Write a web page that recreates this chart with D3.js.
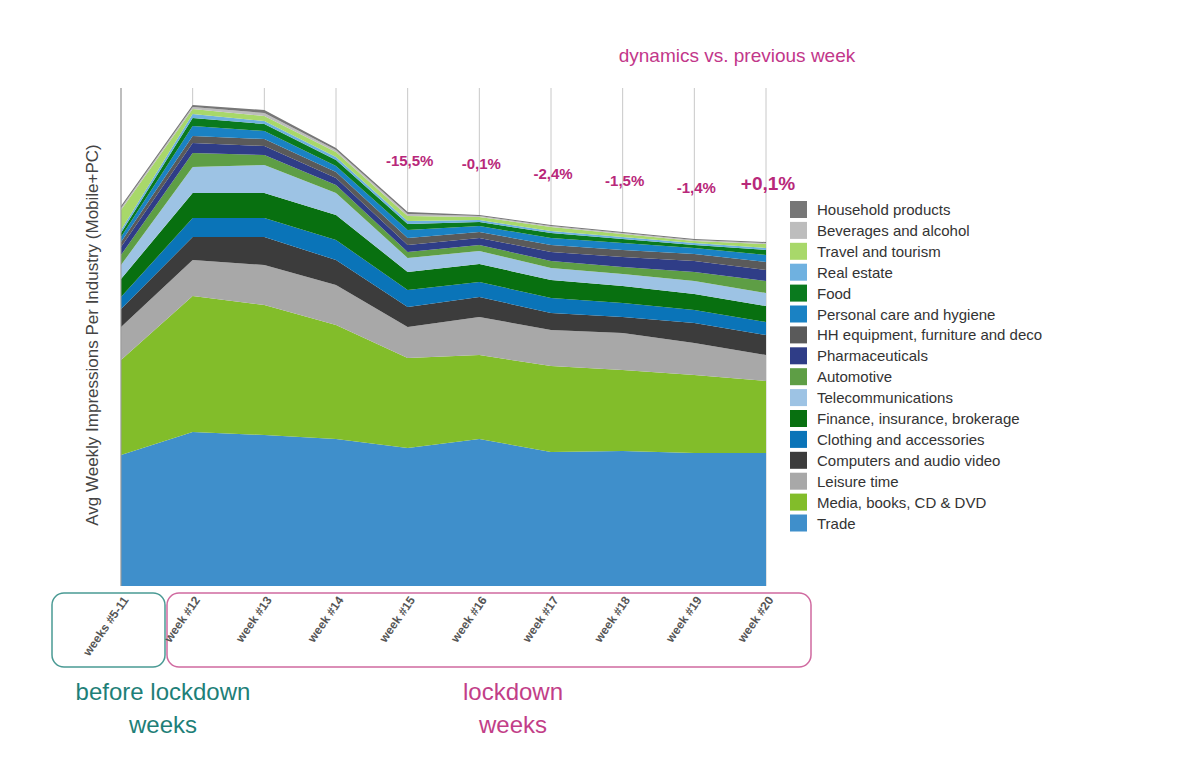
<!DOCTYPE html>
<html><head><meta charset="utf-8">
<script src="https://cdn.jsdelivr.net/npm/d3@7"></script>
<style>body{margin:0;background:#fff;font-family:"Liberation Sans",Arial,sans-serif}</style>
</head><body><div id="chart"></div>
<script>
// weeks along x
const weeks = ["weeks #5-11","week #12","week #13","week #14","week #15","week #16","week #17","week #18","week #19","week #20"];
// stack order bottom -> top
const industries = ["Trade","Media, books, CD & DVD","Leisure time","Computers and audio video","Clothing and accessories",
  "Finance, insurance, brokerage","Telecommunications","Automotive","Pharmaceuticals","HH equipment, furniture and deco",
  "Personal care and hygiene","Food","Real estate","Travel and tourism","Beverages and alcohol","Household products"];
const colors = ["#3f8fcb","#82bd2a","#a8a8a8","#3c3c3c","#0a74b8","#087010","#9dc3e4","#5e9e45","#2f3d87","#5a5a5a",
  "#1a82c4","#0a7a1e","#6fb1e0","#a8d86a","#bdbdbd","#777777"];
// avg weekly impressions per industry (arbitrary units), one array per week
const values = [
  [131,95,33,18,12,18,14,10,8,5,5,4,3,20,2,2],
  [154,136,36,23,19,25,26,14,10,7,10,8,4,5,2,2],
  [151,130,40,28,19,25,28,10,9,7,8,7,3,5,3,3],
  [147,114,40,25,20,25,22,8,7,6,6,6,3,5,2,2],
  [138,90,31,20,17,18,14,6,7,7,8,6,3,5,2,2],
  [147,84,38,20,15,18,13,6,7,6,6,4,2,3,1,1],
  [134,86,36,17,15,18,12,7,9,7,7,5,2,4,1,1],
  [135,81,37,16,14,17,12,7,10,7,7,4,2,3,1,1],
  [133,78,32,20,13,16,13,9,11,7,6,3,2,2,1,1],
  [133,72,26,20,13,16,13,12,11,8,7,5,2,4,1,1]
];
const dynamics = ["","","","","-15,5%","-0,1%","-2,4%","-1,5%","-1,4%","+0,1%"];

const W = 1200, H = 784;
const svg = d3.select("#chart").append("svg").attr("width", W).attr("height", H);

const rows = weeks.map((w, i) => {
  let r = {week: w};
  industries.forEach((k, j) => r[k] = values[i][j]);
  return r;
});
const series = d3.stack().keys(industries)(rows);

const x = d3.scalePoint().domain(weeks).range([121, 766]);
const y = d3.scaleLinear().domain([0, 500]).range([586, 86]);

// grid lines
svg.selectAll(".grid").data(weeks).enter().append("line")
  .attr("x1", d => x(d)).attr("x2", d => x(d)).attr("y1", 88).attr("y2", 586)
  .attr("stroke", "#c8c8c8").attr("stroke-width", 1);

const area = d3.area().x(d => x(d.data.week)).y0(d => y(d[0])).y1(d => y(d[1]));
svg.selectAll(".layer").data(series).enter().append("path")
  .attr("d", area).attr("fill", (d, i) => colors[i]);

svg.append("line").attr("x1", 121).attr("x2", 121).attr("y1", 88).attr("y2", 586).attr("stroke", "#999");

svg.append("text").attr("transform", "translate(98,335) rotate(-90)").attr("text-anchor", "middle")
  .attr("font-size", 17).attr("fill", "#444").text("Avg Weekly Impressions Per Industry (Mobile+PC)");

// dynamics labels
const topVal = weeks.map((w, i) => d3.sum(values[i]));
svg.selectAll(".dyn").data(weeks).enter().append("text")
  .attr("x", d => x(d) + 2).attr("y", (d, i) => y(topVal[i]) - (i === 9 ? 52 : 46))
  .attr("text-anchor", "middle").attr("font-weight", "bold")
  .attr("font-size", (d, i) => i === 9 ? 19 : 15).attr("fill", "#b8287a")
  .text((d, i) => dynamics[i]);
svg.append("text").attr("x", 737).attr("y", 62).attr("text-anchor", "middle")
  .attr("font-size", 19).attr("fill", "#c2378a").text("dynamics vs. previous week");

// legend (reverse order, top item first)
const leg = svg.append("g").attr("transform", "translate(790,201)");
const legItems = industries.map((k, i) => ({k, c: colors[i]})).reverse();
legItems.forEach((d, i) => {
  const g = leg.append("g").attr("transform", `translate(0,${i * 20.9})`);
  g.append("rect").attr("width", 17).attr("height", 17).attr("fill", d.c);
  g.append("text").attr("x", 27).attr("y", 14).attr("font-size", 15).attr("fill", "#333").text(d.k);
});

// period boxes
svg.append("rect").attr("x", 52).attr("y", 593).attr("width", 113).attr("height", 74).attr("rx", 12)
  .attr("fill", "none").attr("stroke", "#4a9a94").attr("stroke-width", 1.5);
svg.append("rect").attr("x", 167).attr("y", 593).attr("width", 644).attr("height", 74).attr("rx", 12)
  .attr("fill", "none").attr("stroke", "#d06aa0").attr("stroke-width", 1.5);

// tick labels
svg.selectAll(".tick").data(weeks).enter().append("text")
  .attr("transform", d => `translate(${x(d) + 8},600) rotate(-55)`)
  .attr("text-anchor", "end").attr("font-size", 12).attr("font-weight", "bold").attr("fill", "#555")
  .text(d => d);

// period captions
[["before lockdown", 163, 700, "#1e7f78"], ["weeks", 163, 733, "#1e7f78"],
 ["lockdown", 513, 700, "#c23e88"], ["weeks", 513, 733, "#c23e88"]].forEach(t => {
  svg.append("text").attr("x", t[1]).attr("y", t[2]).attr("text-anchor", "middle")
    .attr("font-size", 24).attr("fill", t[3]).text(t[0]);
});
</script></body></html>
